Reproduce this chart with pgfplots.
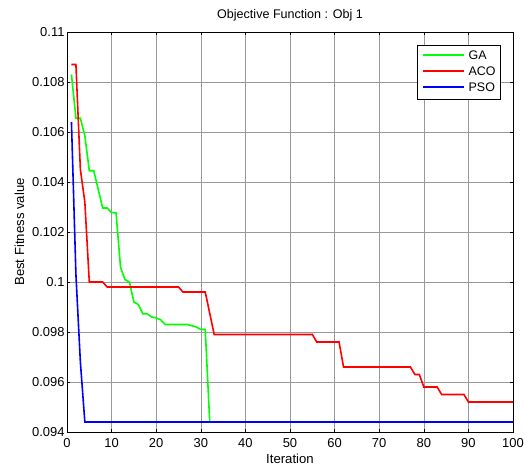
\documentclass[border=0pt]{standalone}
\usepackage{fontspec}
\setmainfont{Liberation Sans}
\usepackage{pgfplots}
\pgfplotsset{compat=1.18}
\definecolor{gaGreen}{RGB}{0,255,0}
\definecolor{acoRed}{RGB}{255,0,0}
\definecolor{psoBlue}{RGB}{0,0,255}
\newcommand{\legline}[1]{\textcolor{#1}{\rule[0.3em]{41bp}{1.6pt}}}

\begin{document}
\begin{tikzpicture}
\begin{axis}[
  scale only axis,
  width=446bp, height=400bp,
  xmin=0, xmax=100,
  ymin=0.094, ymax=0.11,
  xtick={0,10,...,100},
  ytick={0.094,0.096,0.098,0.1,0.102,0.104,0.106,0.108,0.11},
  yticklabels={0.094,0.096,0.098,0.1,0.102,0.104,0.106,0.108,0.11},
  /pgf/number format/assume math mode=true,
  tick label style={font=\fontsize{13}{15}\selectfont},
  label style={font=\fontsize{13.2}{15}\selectfont},
  title style={font=\fontsize{12.6}{14}\selectfont, yshift=1bp},
  xticklabel style={yshift=-3bp},
  yticklabel style={xshift=1bp},
  grid=major,
  grid style={black!40, line width=0.5pt},
  axis line style={black, line width=0.7pt},
  tick style={black, line width=0.6pt},
  major tick length=3pt,
  title={Objective Function : Obj 1},
  xlabel={Iteration},
  ylabel={Best Fitness value},
  xlabel style={yshift=1bp},
  ylabel style={yshift=1bp},
]
% GA
\addplot[gaGreen, line width=1.6pt] coordinates {
 (1,0.1083) (2,0.10655) (3,0.10655) (4,0.10585) (5,0.10445) (6,0.10445)
 (8,0.10296) (9,0.10296) (10,0.10278) (11,0.10276) (12,0.10059) (13,0.1001)
 (14,0.1000) (15,0.0992) (16,0.0991) (17,0.09873) (18,0.09873) (19,0.0986)
 (20,0.09856) (21,0.09849) (22,0.0983) (27,0.0983) (28,0.09825) (29,0.0982)
 (30,0.0981) (31,0.0981) (32,0.0944) (100,0.0944)
};
% ACO
\addplot[acoRed, line width=1.6pt] coordinates {
 (1,0.1087) (2,0.1087) (3,0.1045) (4,0.1032) (5,0.1000) (8,0.1000)
 (9,0.0998) (25,0.0998) (26,0.0996) (31,0.0996) (33,0.0979) (55,0.0979)
 (56,0.0976) (61,0.0976) (62,0.0966) (77,0.0966) (78,0.0963) (79,0.0963)
 (80,0.0958) (83,0.0958) (84,0.0955) (89,0.0955) (90,0.0952) (100,0.0952)
};
% PSO
\addplot[psoBlue, line width=1.6pt] coordinates {
 (1,0.1064) (2,0.1003) (3,0.0968) (4,0.0944) (100,0.0944)
};
\end{axis}
% legend
\node[draw=black, line width=0.7pt, fill=white, anchor=north east,
      inner xsep=5bp, inner ysep=3bp, font=\fontsize{12.5}{14}\selectfont]
  at ([shift={(-12bp,-13bp)}]current axis.north east) {%
  \renewcommand{\arraystretch}{1.15}%
  \begin{tabular}{@{}l@{\hspace{5bp}}l@{}}
  \legline{gaGreen} & GA\\
  \legline{acoRed} & ACO\\
  \legline{psoBlue} & PSO
  \end{tabular}};
\pgfresetboundingbox
\path ([shift={(-67bp,-42bp)}]current axis.south west)
  rectangle ([shift={(11bp,32bp)}]current axis.north east);
\end{tikzpicture}
\end{document}
